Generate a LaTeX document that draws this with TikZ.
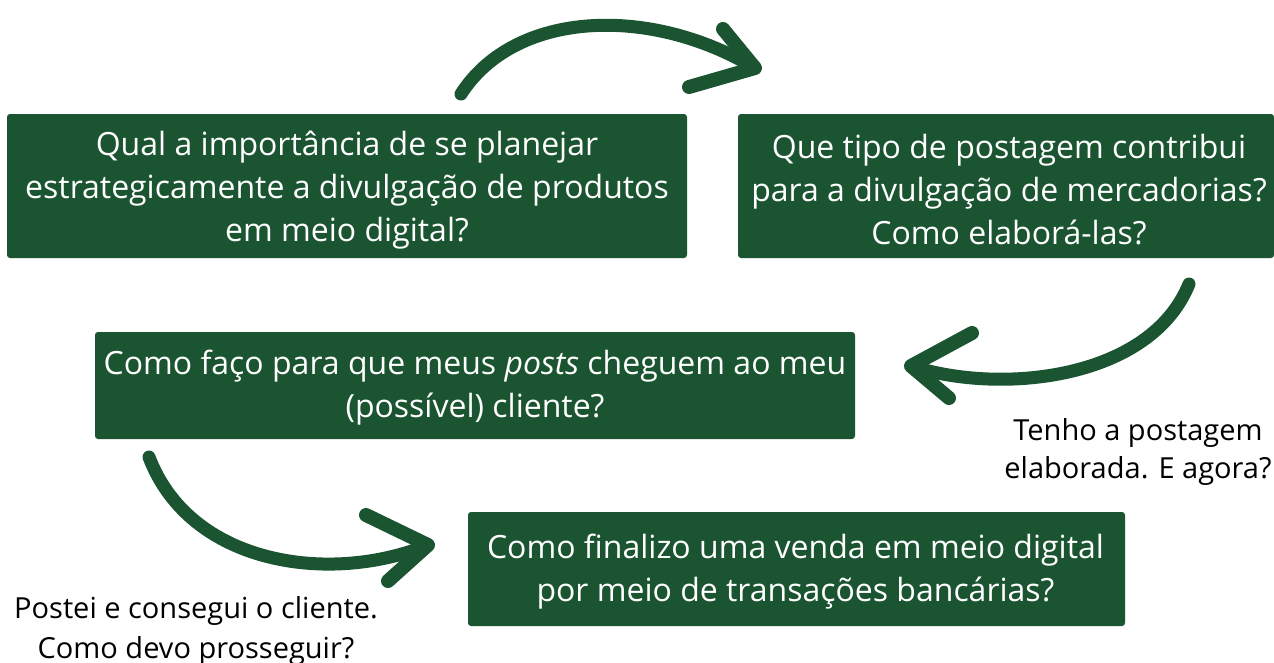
\documentclass[tikz,border=0pt]{standalone}
\usepackage{fontspec}
\setmainfont{Open Sans}
\definecolor{dgreen}{RGB}{27,84,49}
\begin{document}
\begin{tikzpicture}[x=1pt,y=-1pt,
  qbox/.style={fill=dgreen,rounded corners=3pt,inner sep=0pt},
  qtext/.style={inner sep=0pt,text=white,align=center,
    font=\fontsize{32}{43}\selectfont},
  caption/.style={align=center,text=black,inner sep=0pt},
  brush/.style={draw=dgreen,line width=13pt,line cap=round},
  brushhead/.style={draw=dgreen,line width=14pt,line cap=round,line join=round}]
\useasboundingbox[fill=white] (0,0) rectangle (1274,662);
% boxes
\node[qbox,minimum width=680pt,minimum height=144pt] (q1) at (347,186) {};
\node[qtext] (t1) at (347,190)
  {Qual a importância de se planejar\\estrategicamente a divulgação de produtos\\em meio digital?};
\node[qbox,minimum width=536pt,minimum height=144pt] (q2) at (1006,186) {};
\node[qtext] (t2) at (1009,190)
  {Que tipo de postagem contribui\\para a divulgação de mercadorias?\\Como elaborá-las?};
\node[qbox,minimum width=760pt,minimum height=107pt] (q3) at (475,385.5) {};
\node[qtext] (t3) at (475,387.5)
  {Como faço para que meus \textit{posts} cheguem ao meu\\(possível) cliente?};
\node[qbox,minimum width=657pt,minimum height=114pt] (q4) at (796.5,569) {};
\node[qtext] (t4) at (795.5,572)
  {Como finalizo uma venda em meio digital\\por meio de transações bancárias?};
% captions
\node[caption,font=\fontsize{29}{38}\selectfont] (c1) at (1138,452)
  {Tenho a postagem\\elaborada. E agora?};
\node[caption,font=\fontsize{29}{40}\selectfont] (c2) at (196,631)
  {Postei e consegui o cliente.\\Como devo prosseguir?};
% arrow 1
\coordinate (a1s) at (461,94);
\coordinate (a1t) at (755,68);
\coordinate (a1u) at (723,29);
\coordinate (a1l) at (689,87);
\draw[brush] (a1s) .. controls (515,10) and (650,5) .. (a1t);
\draw[brushhead] (a1u) -- (a1t) -- (a1l);
% arrow 2
\coordinate (a2s) at (1189,284);
\coordinate (a2t) at (911,366);
\coordinate (a2u) at (972,333);
\coordinate (a2l) at (949,398);
\draw[brush] (a2s) .. controls (1150,380) and (1000,395) .. (a2t);
\draw[brushhead] (a2u) -- (a2t) -- (a2l);
% arrow 3
\coordinate (a3s) at (149,457);
\coordinate (a3t) at (428,545);
\coordinate (a3u) at (366,515);
\coordinate (a3l) at (388,581);
\draw[brush] (a3s) .. controls (190,565) and (330,585) .. (a3t);
\draw[brushhead] (a3u) -- (a3t) -- (a3l);
\end{tikzpicture}
\end{document}
